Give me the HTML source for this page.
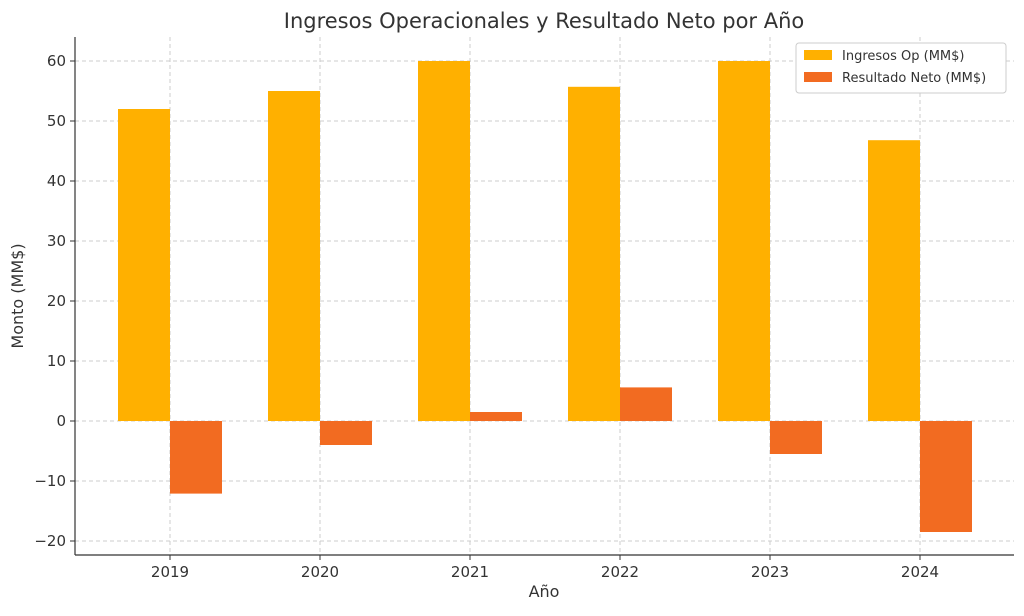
<!DOCTYPE html>
<html><head><meta charset="utf-8"><style>
body{margin:0;background:#fff;font-family:"Liberation Sans","DejaVu Sans",sans-serif}
svg text{font-family:"DejaVu Sans","Liberation Sans",sans-serif}
</style></head><body>
<svg id="chart" width="1024" height="611" xmlns="http://www.w3.org/2000/svg">
<text x="544" y="28" text-anchor="middle" font-size="21" fill="#333">Ingresos Operacionales y Resultado Neto por Año</text>
<g id="grid"></g><g id="bars"></g><g id="axes"></g>
<text x="544" y="597" text-anchor="middle" font-size="16" fill="#333">Año</text>
<text transform="translate(23,296) rotate(-90)" text-anchor="middle" font-size="16" fill="#333">Monto (MM$)</text>
<g>
<rect x="796" y="43" width="210" height="50" fill="#fff" stroke="#ccc" rx="3"/>
<rect x="804" y="50" width="28" height="10" fill="#FFB000"/>
<text x="842" y="60" font-size="13" fill="#333">Ingresos Op (MM$)</text>
<rect x="804" y="72" width="28" height="10" fill="#F26B21"/>
<text x="842" y="82" font-size="13" fill="#333">Resultado Neto (MM$)</text>
</g>
</svg>
<script>
const categories=["2019","2020","2021","2022","2023","2024"];
const ingresos=[52,55,60,55.7,60,46.8];
const neto=[-12.1,-4,1.5,5.6,-5.5,-18.5];
const yTicks=[-20,-10,0,10,20,30,40,50,60];
const NS="http://www.w3.org/2000/svg";
const L=75,R=1014,T=37,B=555;
const y=v=>421-v*6;
const x=i=>170+i*150;
const bw=52;
function mk(tag,attrs,parent){const e=document.createElementNS(NS,tag);for(const k in attrs)e.setAttribute(k,attrs[k]);parent.appendChild(e);return e;}
const grid=document.getElementById('grid'),bars=document.getElementById('bars'),axes=document.getElementById('axes');
yTicks.forEach(t=>{
 const g=mk('line',{x1:L,x2:R,y1:y(t),y2:y(t),stroke:'#ccc','stroke-dasharray':'4,3','stroke-width':1},grid);
 
 
 const tk=mk('line',{x1:L-5,x2:L,y1:y(t),y2:y(t),stroke:'#333'},axes);
 
 
 const lb=mk('text',{x:L-9,y:y(t)+5,'text-anchor':'end','font-size':15,fill:'#333'},axes);
 lb.textContent=t<0?'−'+Math.abs(t):String(t);
 
 
});
categories.forEach((c,i)=>{
 const g=mk('line',{x1:x(i),x2:x(i),y1:T,y2:B,stroke:'#ccc','stroke-dasharray':'4,3'},grid);
 
 
 const a=ingresos[i];
 const b1=mk('rect',{x:x(i)-bw,y:Math.min(y(a),y(0)),width:bw,height:Math.abs(y(a)-y(0)),fill:'#FFB000'},bars);
 
 
 const n=neto[i];
 const b2=mk('rect',{x:x(i),y:Math.min(y(n),y(0)),width:bw,height:Math.abs(y(n)-y(0)),fill:'#F26B21'},bars);
 
 
 const tk=mk('line',{x1:x(i),x2:x(i),y1:B,y2:B+5,stroke:'#333'},axes);
 
 
 const lb=mk('text',{x:x(i),y:B+22,'text-anchor':'middle','font-size':15,fill:'#333'},axes);
 lb.textContent=c;
 
 
});
const ax1=mk('line',{x1:L,x2:L,y1:T,y2:B,stroke:'#333','stroke-width':1.2},axes);


const ax2=mk('line',{x1:L,x2:R,y1:B,y2:B,stroke:'#333','stroke-width':1.2},axes);


</script>
</body></html>
